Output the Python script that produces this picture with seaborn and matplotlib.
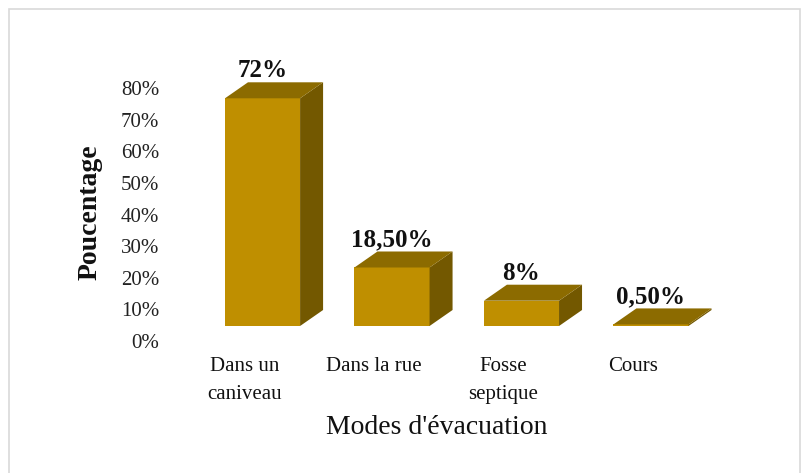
# histogramme 3D des modes d'evacuation

import matplotlib
matplotlib.use("Agg")
import matplotlib.pyplot as plt
from matplotlib.patches import Polygon, Rectangle
import matplotlib.transforms as mtransforms
import pandas as pd
import seaborn as sns

modes = ["Dans un\ncaniveau", "Dans la rue", "Fosse\nseptique", "Cours"]
valeurs = [72, 18.5, 8, 0.5]
etiquettes = ["72%", "18,50%", "8%", "0,50%"]
graduations = [0, 10, 20, 30, 40, 50, 60, 70, 80]

FACE = "#BF8F00"
DESSUS = "#8C6B00"
COTE = "#735800"

sns.set_theme(style="white")
plt.rcParams["font.family"] = ["Liberation Serif", "DejaVu Serif"]

W, H = 805, 473
fig = plt.figure(figsize=(W / 100, H / 100), dpi=100)
ax = fig.add_axes([171.9 / W, 147 / H, 569.7 / W, 253 / H])

df = pd.DataFrame({"mode": modes, "val": valeurs})
sns.barplot(data=df, x="mode", y="val", color=FACE, width=0.58,
            saturation=1, ax=ax, edgecolor="none")
ax.set_xlim(-0.7, 3.7)
ax.set_ylim(0, 80)

# profondeur de l'effet 3D (en pixels -> unites de donnees)
dx_px, dy_px = 23, 16
ux = (ax.get_xlim()[1] - ax.get_xlim()[0]) / 569.7
uy = (ax.get_ylim()[1] - ax.get_ylim()[0]) / 253
dx, dy = dx_px * ux, dy_px * uy

for p, lab in zip(ax.patches, etiquettes):
    x0, w, h = p.get_x(), p.get_width(), p.get_height()
    x1 = x0 + w
    cote = Polygon([(x1, 0), (x1 + dx, dy), (x1 + dx, h + dy), (x1, h)],
                   closed=True, facecolor=COTE, edgecolor="none", clip_on=False)
    dessus = Polygon([(x0, h), (x0 + dx, h + dy), (x1 + dx, h + dy), (x1, h)],
                     closed=True, facecolor=DESSUS, edgecolor="none", clip_on=False)
    ax.add_patch(cote)
    ax.add_patch(dessus)
    ax.text(x0 + w / 2, h + dy, lab, ha="center", va="bottom", fontsize=18,
            fontweight="bold", color="#111111", clip_on=False)

ax.set_yticks(graduations)
ax.set_yticklabels([f"{g}%" for g in graduations], fontsize=15, color="#222222")
ax.tick_params(axis="y", length=0, pad=9)
ax.tick_params(axis="x", length=0, pad=22, labelsize=15, labelcolor="#111111")
for t in ax.get_xticklabels():
    t.set_linespacing(1.65)

# decalage des etiquettes comme dans Excel 3D
off_y = mtransforms.ScaledTranslation(0, -15 / 100, fig.dpi_scale_trans)
for t in ax.get_yticklabels():
    t.set_transform(t.get_transform() + off_y)
off_x = mtransforms.ScaledTranslation(-18 / 100, 0, fig.dpi_scale_trans)
for t in ax.get_xticklabels():
    t.set_transform(t.get_transform() + off_x)

ax.set_xlabel("Modes d'évacuation", fontsize=20, color="#111111")
ax.xaxis.set_label_coords(0.465, -0.35)
ax.set_ylabel("Poucentage", fontsize=20, fontweight="bold", color="#111111")
ax.yaxis.set_label_coords(-0.121, 0.45)

sns.despine(ax=ax, left=True, bottom=True)
ax.grid(False)

fig.patches.append(Rectangle((9 / W, -0.01), (800 - 9) / W, (H - 9) / H + 0.01,
                             transform=fig.transFigure, fill=False,
                             edgecolor="#d9d9d9", linewidth=1.2))

plt.savefig("out.png", dpi=100)
plt.close()
